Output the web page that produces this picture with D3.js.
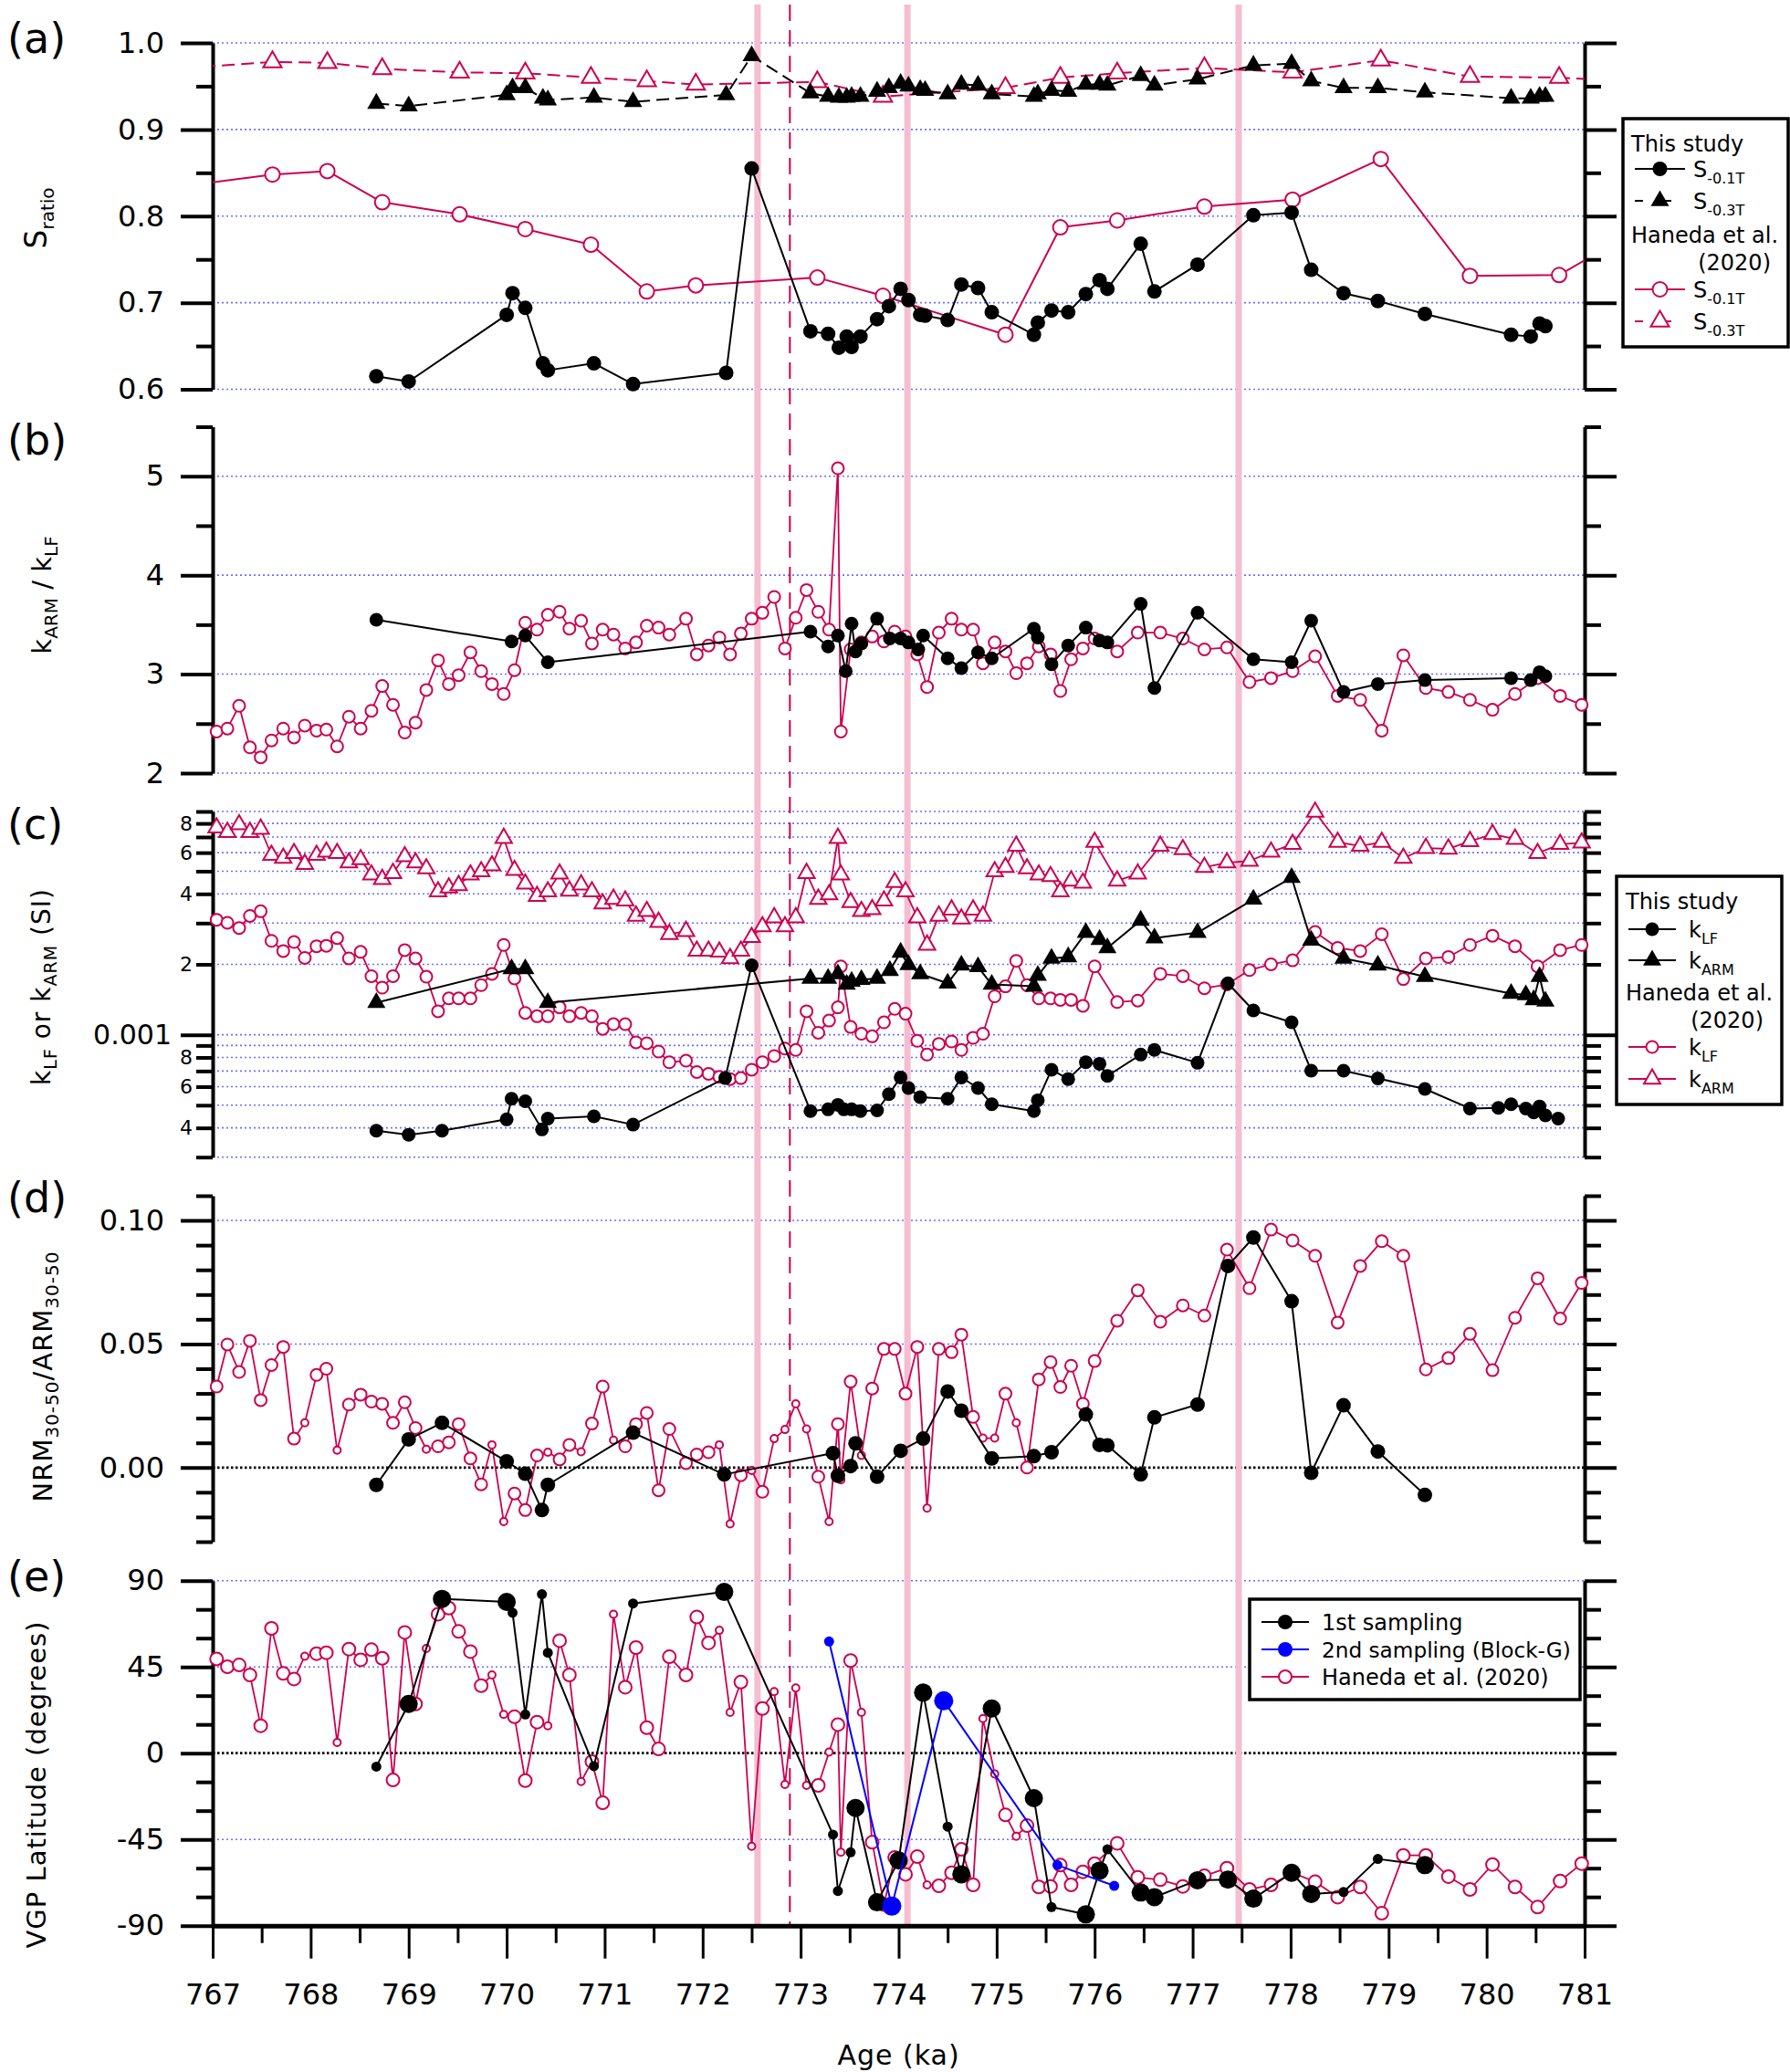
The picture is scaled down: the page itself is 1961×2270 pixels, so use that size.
<!DOCTYPE html>
<html>
<head>
<meta charset="utf-8">
<script src="https://cdn.jsdelivr.net/npm/d3@7/dist/d3.min.js"></script>
<style>
html,body{margin:0;padding:0;background:#fff;}
svg{display:block;}
</style>
</head>
<body>
<svg id="chart" width="1961" height="2270"></svg>
<script>
// ================= DATA =================
const ageTicks = [767,768,769,770,771,772,773,774,775,776,777,778,779,780,781];
const eventAges = [772.56, 774.09, 777.47];
const dashedAges = [772.89];

// (a) S-ratio, this study
const aAge = [768.67,769.0,770.0,770.06,770.19,770.37,770.42,770.89,771.29,772.24,772.5,773.1,773.28,773.39,773.47,773.52,773.61,773.78,773.9,774.02,774.1,774.22,774.27,774.5,774.64,774.81,774.95,775.38,775.42,775.56,775.73,775.91,776.05,776.13,776.47,776.61,777.05,777.62,778.01,778.21,778.54,778.89,779.37,780.25,780.45,780.54,780.6];
const aS01 = [0.615,0.609,0.686,0.711,0.694,0.630,0.622,0.630,0.606,0.619,0.855,0.667,0.664,0.648,0.661,0.649,0.661,0.681,0.696,0.716,0.703,0.686,0.685,0.680,0.721,0.717,0.689,0.663,0.677,0.691,0.689,0.710,0.726,0.716,0.768,0.713,0.744,0.801,0.804,0.738,0.711,0.702,0.687,0.663,0.661,0.676,0.673];
const aS03 = [0.930,0.927,0.940,0.948,0.948,0.936,0.934,0.937,0.932,0.940,0.985,0.942,0.938,0.937,0.937,0.938,0.938,0.944,0.948,0.953,0.950,0.946,0.945,0.941,0.952,0.951,0.941,0.938,0.941,0.945,0.944,0.952,0.952,0.951,0.962,0.951,0.958,0.974,0.976,0.956,0.948,0.948,0.943,0.936,0.936,0.938,0.938];
// (a) Haneda et al. (2020)
const hAAge = [766.9,767.61,768.17,768.73,769.52,770.19,770.86,771.43,771.93,773.17,773.84,775.09,775.65,776.23,777.12,778.02,778.92,779.83,780.74,781.2];
const hAS01 = [0.8375,0.848,0.852,0.816,0.802,0.785,0.767,0.713,0.720,0.729,0.708,0.663,0.787,0.795,0.811,0.819,0.866,0.731,0.732,0.762];
const hAS03 = [0.9725,0.978,0.977,0.970,0.966,0.965,0.960,0.956,0.952,0.955,0.938,0.948,0.960,0.965,0.971,0.966,0.980,0.961,0.960,0.957];

// (b) kARM/kLF, this study
const bAge = [768.67,770.05,770.19,770.42,773.10,773.28,773.38,773.46,773.52,773.56,773.62,773.78,773.91,774.02,774.10,774.2,774.25,774.5,774.64,774.81,774.95,775.38,775.42,775.56,775.73,775.91,776.05,776.13,776.47,776.61,777.05,777.62,778.01,778.21,778.54,778.89,779.37,780.25,780.45,780.54,780.6];
const bRatio = [3.55,3.33,3.39,3.12,3.43,3.28,3.39,3.03,3.51,3.23,3.31,3.56,3.36,3.36,3.32,3.25,3.39,3.16,3.06,3.22,3.16,3.46,3.37,3.10,3.29,3.47,3.34,3.32,3.71,2.86,3.62,3.15,3.12,3.54,2.82,2.90,2.94,2.96,2.94,3.02,2.98];

// Haneda et al. (2020), panels (b)-(e)
const hAge = [767.04,767.15,767.27,767.38,767.49,767.60,767.72,767.83,767.94,768.06,
768.16,768.27,768.39,768.51,768.62,768.73,768.84,768.96,769.07,769.18,
769.30,769.41,769.51,769.63,769.74,769.85,769.97,770.08,770.19,770.31,
770.42,770.54,770.64,770.76,770.87,770.98,771.09,771.21,771.32,771.43,
771.55,771.66,771.83,771.94,772.06,772.17,772.28,772.39,772.50,772.61,
772.73,772.84,772.95,773.06,773.18,773.29,773.38,773.41,773.51,773.62,
773.73,773.85,773.96,774.07,774.19,774.29,774.41,774.54,774.64,774.76,
774.86,774.98,775.09,775.20,775.31,775.43,775.55,775.65,775.76,775.88,
776.00,776.23,776.44,776.67,776.90,777.12,777.35,777.58,777.80,778.02,
778.25,778.48,778.71,778.93,779.15,779.38,779.61,779.83,780.06,780.29,
780.52,780.75,780.97];
const hRatio = [2.42,2.45,2.68,2.26,2.16,2.33,2.45,2.36,2.48,2.43,
2.44,2.27,2.57,2.45,2.63,2.88,2.69,2.41,2.51,2.84,
3.14,2.90,2.99,3.22,3.03,2.90,2.80,3.04,3.52,3.45,
3.60,3.63,3.46,3.54,3.31,3.45,3.40,3.26,3.32,3.49,
3.47,3.40,3.56,3.20,3.29,3.37,3.20,3.41,3.56,3.62,
3.78,3.26,3.57,3.85,3.63,3.45,5.08,2.42,3.25,3.32,
3.38,3.33,3.43,3.38,3.20,2.87,3.42,3.56,3.45,3.45,
3.11,3.32,3.23,3.01,3.11,3.28,3.20,2.83,3.15,3.26,
3.36,3.23,3.42,3.42,3.36,3.25,3.27,2.92,2.96,3.03,
3.18,2.78,2.74,2.43,3.19,2.86,2.82,2.74,2.64,2.80,
2.96,2.78,2.69];
const hKlf = [3.10e-3,3.01e-3,2.86e-3,3.22e-3,3.37e-3,2.52e-3,2.28e-3,2.49e-3,2.13e-3,2.39e-3,
2.40e-3,2.59e-3,2.12e-3,2.26e-3,1.78e-3,1.59e-3,1.78e-3,2.30e-3,2.12e-3,1.77e-3,
1.26e-3,1.43e-3,1.43e-3,1.43e-3,1.63e-3,1.82e-3,2.42e-3,1.74e-3,1.24e-3,1.20e-3,
1.20e-3,1.31e-3,1.20e-3,1.24e-3,1.20e-3,1.06e-3,1.11e-3,1.11e-3,0.928e-3,0.920e-3,
0.848e-3,0.763e-3,0.775e-3,0.693e-3,0.681e-3,0.661e-3,0.647e-3,0.653e-3,0.709e-3,0.763e-3,
0.811e-3,0.873e-3,0.861e-3,1.26e-3,1.02e-3,1.15e-3,1.31e-3,1.96e-3,1.08e-3,1.01e-3,
0.985e-3,1.13e-3,1.29e-3,1.23e-3,0.942e-3,0.823e-3,0.914e-3,0.936e-3,0.861e-3,0.970e-3,
1.01e-3,1.46e-3,1.61e-3,2.07e-3,1.63e-3,1.43e-3,1.43e-3,1.41e-3,1.41e-3,1.33e-3,
1.96e-3,1.38e-3,1.40e-3,1.82e-3,1.78e-3,1.58e-3,1.64e-3,1.89e-3,2.00e-3,2.08e-3,
2.75e-3,2.35e-3,2.28e-3,2.69e-3,1.73e-3,2.12e-3,2.15e-3,2.42e-3,2.65e-3,2.39e-3,
1.96e-3,2.30e-3,2.42e-3];
const hKarm = [7.67e-3,7.34e-3,7.91e-3,7.34e-3,7.57e-3,5.86e-3,5.69e-3,5.96e-3,5.36e-3,5.86e-3,
6.04e-3,5.96e-3,5.44e-3,5.61e-3,4.83e-3,4.62e-3,4.90e-3,5.78e-3,5.44e-3,5.13e-3,
4.09e-3,4.25e-3,4.35e-3,4.83e-3,4.98e-3,5.28e-3,6.92e-3,5.05e-3,4.41e-3,3.91e-3,
4.09e-3,4.87e-3,4.12e-3,4.38e-3,4.09e-3,3.63e-3,3.80e-3,3.74e-3,3.22e-3,3.37e-3,
3.03e-3,2.69e-3,2.77e-3,2.28e-3,2.28e-3,2.26e-3,2.12e-3,2.28e-3,2.61e-3,2.90e-3,
3.17e-3,2.90e-3,3.17e-3,4.90e-3,3.80e-3,3.97e-3,6.92e-3,4.83e-3,3.68e-3,3.37e-3,
3.43e-3,3.74e-3,4.48e-3,4.09e-3,3.17e-3,2.42e-3,3.22e-3,3.42e-3,3.13e-3,3.42e-3,
3.22e-3,4.98e-3,5.20e-3,6.41e-3,5.13e-3,4.83e-3,4.75e-3,4.09e-3,4.55e-3,4.45e-3,
6.66e-3,4.55e-3,4.87e-3,6.41e-3,6.19e-3,5.20e-3,5.44e-3,5.53e-3,6.04e-3,6.52e-3,
8.95e-3,6.66e-3,6.41e-3,6.66e-3,5.69e-3,6.27e-3,6.23e-3,6.71e-3,7.19e-3,6.86e-3,
5.96e-3,6.52e-3,6.61e-3];
const hNrm = [0.0328,0.0498,0.0387,0.0513,0.0273,0.0415,0.0488,0.0117,0.0181,0.0375,
0.0400,0.0070,0.0255,0.0295,0.0267,0.0258,0.0181,0.0264,0.0160,0.0074,
0.0086,0.0102,0.0176,0.0037,-0.0068,0.0092,-0.0219,-0.0105,-0.0172,0.0049,
0.0062,0.0033,0.0092,0.0064,0.0178,0.0328,0.0111,0.0086,0.0176,0.0221,
-0.0092,0.0156,0.0018,0.0053,0.0062,0.0092,-0.0228,-0.0031,-0.0012,-0.0098,
0.0117,0.0154,0.0258,0.0156,-0.0037,-0.0219,0.0176,-0.0050,0.0348,0.0049,
0.0320,0.0480,0.0480,0.0299,0.0488,-0.0164,0.0480,0.0467,0.0538,0.0205,
0.0119,0.0119,0.0299,0.0181,0.0000,0.0357,0.0427,0.0326,0.0412,0.0258,
0.0431,0.0594,0.0717,0.0590,0.0656,0.0615,0.0882,0.0726,0.0963,0.0919,
0.0857,0.0587,0.0816,0.0916,0.0857,0.0397,0.0443,0.0541,0.0394,0.0606,
0.0766,0.0603,0.0747];
const hVgp = [49.2,45.1,46.0,40.8,14.3,65.1,41.6,38.7,50.6,51.9,
52.4,5.6,54.3,48.7,54.0,49.5,-14.0,63.0,25.7,54.6,
72.5,75.7,63.5,53.0,35.2,40.8,20.2,19.0,-14.3,16.2,
14.3,58.7,40.8,-14.8,-4.4,-25.9,72.5,34.4,55.1,13.3,
2.2,50.3,40.8,71.0,57.5,64.1,21.3,37.1,-48.6,23.3,
32.1,-16.3,34.0,-16.8,-16.8,0.6,14.9,-51.7,48.3,21.3,
-46.5,-79.0,-54.4,-63.2,-54.0,-68.7,-69.2,-62.4,-50.2,-68.7,
18.1,-10.8,-32.2,-43.3,-37.8,-69.8,-69.5,-58.4,-68.7,-61.9,
-57.6,-47.0,-64.8,-66.0,-69.5,-64.0,-60.0,-71.1,-68.7,-62.4,
-67.1,-75.1,-69.8,-83.5,-53.3,-53.3,-64.4,-71.1,-58.1,-69.8,
-80.3,-66.7,-57.6];
// Haneda samples drawn with the small marker in (d) and (e)
const hSmallAges = [767.94,768.27,769.18,769.85,769.97,770.42,770.76,771.09,772.17,772.28,772.50,772.73,772.84,772.95,773.06,773.29,773.41,773.62,774.29,774.86,774.98,775.20];

// (c) kLF and kARM, this study
const cKlfAge = [768.67,769.0,769.34,770.0,770.05,770.19,770.36,770.42,770.89,771.29,772.23,772.5,773.10,773.28,773.38,773.44,773.52,773.61,773.78,773.90,774.02,774.10,774.22,774.50,774.64,774.81,774.95,775.38,775.42,775.56,775.73,775.91,776.05,776.13,776.47,776.61,777.05,777.36,777.62,778.01,778.21,778.54,778.89,779.37,779.83,780.12,780.25,780.40,780.48,780.54,780.60,780.73];
const cKlf = [3.89e-4,3.74e-4,3.89e-4,4.35e-4,5.33e-4,5.20e-4,3.94e-4,4.38e-4,4.48e-4,4.13e-4,6.53e-4,1.98e-3,4.72e-4,4.80e-4,5.02e-4,4.80e-4,4.80e-4,4.72e-4,4.75e-4,5.57e-4,6.57e-4,5.92e-4,5.41e-4,5.33e-4,6.57e-4,5.92e-4,5.05e-4,4.72e-4,5.25e-4,7.09e-4,6.47e-4,7.63e-4,7.52e-4,6.67e-4,8.23e-4,8.61e-4,7.59e-4,1.66e-3,1.27e-3,1.13e-3,7.02e-4,7.02e-4,6.51e-4,5.87e-4,4.84e-4,4.87e-4,5.05e-4,4.84e-4,4.66e-4,4.94e-4,4.52e-4,4.38e-4];
const cKarmAge = [768.67,770.05,770.19,770.42,773.10,773.28,773.38,773.47,773.52,773.62,773.78,773.91,774.02,774.10,774.22,774.50,774.64,774.81,774.95,775.38,775.42,775.56,775.73,775.91,776.05,776.13,776.47,776.61,777.05,777.62,778.01,778.21,778.54,778.89,779.37,780.25,780.40,780.48,780.54,780.60];
const cKarm = [1.37e-3,1.91e-3,1.91e-3,1.37e-3,1.74e-3,1.74e-3,1.82e-3,1.64e-3,1.69e-3,1.72e-3,1.74e-3,1.88e-3,2.25e-3,1.99e-3,1.82e-3,1.66e-3,1.98e-3,1.95e-3,1.64e-3,1.61e-3,1.79e-3,2.12e-3,2.15e-3,2.73e-3,2.55e-3,2.35e-3,3.08e-3,2.59e-3,2.73e-3,3.79e-3,4.69e-3,2.53e-3,2.12e-3,1.98e-3,1.77e-3,1.50e-3,1.48e-3,1.41e-3,1.77e-3,1.39e-3];

// (d) NRM30-50/ARM30-50, this study
const dAge = [768.67,769.0,769.34,770.0,770.19,770.36,770.42,771.29,772.22,773.33,773.38,773.51,773.56,773.78,774.02,774.25,774.50,774.64,774.95,775.38,775.56,775.91,776.05,776.13,776.47,776.61,777.05,777.36,777.62,778.01,778.21,778.54,778.89,779.37];
const dNrm = [-0.0070,0.0114,0.0181,0.0025,-0.0025,-0.0172,-0.0070,0.0141,-0.0028,0.0058,-0.0033,0.0006,0.0098,-0.0037,0.0068,0.0117,0.0308,0.0230,0.0037,0.0046,0.0062,0.0215,0.0092,0.0090,-0.0028,0.0203,0.0255,0.0816,0.0931,0.0673,-0.0021,0.0252,0.0065,-0.0111];

// (e) VGP latitude: 1st sampling and 2nd sampling (Block-G)
const e1Age = [768.67,769.0,769.34,770.0,770.06,770.19,770.36,770.42,770.89,771.29,772.22,773.33,773.38,773.51,773.56,773.78,774.0,774.25,774.5,774.64,774.95,775.38,775.56,775.91,776.05,776.13,776.47,776.61,777.05,777.36,777.62,778.01,778.21,778.54,778.89,779.37];
const e1Vgp = [-7.0,25.7,80.5,78.9,73.3,20.2,82.9,52.4,-6.8,78.1,84.1,-42.5,-71.9,-51.7,-28.6,-77.8,-56.0,31.6,-38.3,-63.2,23.3,-23.5,-80.3,-84.1,-61.3,-50.2,-72.7,-75.1,-66.3,-66.0,-75.9,-62.4,-73.5,-72.4,-55.2,-58.4];
const e1Small = [1,0,0,0,1,1,1,1,1,1,0,1,1,1,0,0,0,0,1,0,0,0,1,0,0,1,0,0,0,0,0,0,0,1,1,0];
const e2Age = [773.29,773.93,774.46,775.62,776.2];
const e2Vgp = [58.3,-79.8,27.3,-58.4,-69.2];
const e2Small = [1,0,0,1,1];

// tick values / labels
const aTicks = [0.6,0.7,0.8,0.9,1.0], aMinor = [0.65,0.75,0.85,0.95];
const bTicks = [2,3,4,5], bMinor = [2.5,3.5,4.5,5.5];
const cTicks = [3e-4,4e-4,5e-4,6e-4,7e-4,8e-4,9e-4,2e-3,3e-3,4e-3,5e-3,6e-3,7e-3,8e-3,9e-3], cMajor = [1e-3];
const cLabels = {"0.0004":"4","0.0006":"6","0.0008":"8","0.002":"2","0.004":"4","0.006":"6","0.008":"8"};
const dTicks = [0,0.05,0.10], dMinor = [-0.03,-0.02,-0.01,0.01,0.02,0.03,0.04,0.06,0.07,0.08,0.09,0.11];
const eTicks = [-90,-45,0,45,90], eMinor = [-75,-60,-30,-15,15,30,60,75];

// ================= DRAWING =================
const FONT = "'DejaVu Sans', Verdana, sans-serif";
const CR = '#cc0050', GRIDC = '#6f6fff', PINK = '#f6bdd1', BLUE = '#0000ff';
const X0 = 233, X1 = 1736;
const svg = d3.select('#chart');
const x = d3.scaleLinear().domain([767,781]).range([X0,X1]);
const yA = d3.scaleLinear().domain([0.6,1.0]).range([426.5,47]);
const yB = d3.scaleLinear().domain([2,5.5]).range([847,467.5]);
const yC = d3.scaleLog().domain([3e-4,9e-3]).range([1267.7,889]);
const yD = d3.scaleLinear().domain([-0.03,0.11]).range([1689,1310]);
const yE = d3.scaleLinear().domain([-90,90]).range([2109.7,1731.7]);

svg.append('rect').attr('width',1961).attr('height',2270).attr('fill','#fff');
svg.append('defs').append('clipPath').attr('id','clipX').append('rect')
  .attr('x',X0).attr('y',0).attr('width',X1-X0).attr('height',2270);

const gGrid = svg.append('g'), gEvt = svg.append('g'), gAxis = svg.append('g'),
      gData = svg.append('g'), gLeg = svg.append('g');

function grid(y, vals, color, dash, sw){
  vals.forEach(v => gGrid.append('line').attr('x1',X0).attr('x2',X1)
    .attr('y1',y(v)).attr('y2',y(v)).attr('stroke',color).attr('stroke-width',sw)
    .attr('stroke-dasharray',dash));
}
grid(yA, aTicks, GRIDC, '2,3', 1.6);
grid(yB, bTicks, GRIDC, '2,3', 1.6);
grid(yC, cTicks.concat(cMajor), GRIDC, '2,3', 1.6);
grid(yD, [0.05,0.10], GRIDC, '2,3', 1.6);
grid(yD, [0], '#000', '2.5,2.5', 2.8);
grid(yE, [45,90,-45], GRIDC, '2,3', 1.6);
grid(yE, [0], '#000', '2.5,2.5', 2.8);

// event lines
eventAges.forEach(a => gEvt.append('line').attr('x1',x(a)).attr('x2',x(a))
  .attr('y1',5).attr('y2',yE(-90)).attr('stroke',PINK).attr('stroke-width',7));
dashedAges.forEach(a => gEvt.append('line').attr('x1',x(a)).attr('x2',x(a))
  .attr('y1',5).attr('y2',yE(-90)).attr('stroke',CR).attr('stroke-width',2)
  .attr('stroke-dasharray','18,10'));

function styleAxis(g, fs){
  g.selectAll('line').attr('stroke','#000').attr('stroke-width',4);
  g.selectAll('text').attr('font-size',fs).attr('font-family',FONT).attr('fill','#000');
  g.select('.domain').attr('stroke','#000').attr('stroke-width',4);
}
function yAxes(y, major, minor, fmt, o){
  o = o || {};
  [['L',X0],['R',X1]].forEach(([side,xp]) => {
    const mk = side==='L' ? d3.axisLeft : d3.axisRight;
    const gMaj = gAxis.append('g').attr('transform',`translate(${xp},0)`)
      .call(mk(y).tickValues(major).tickSize(35).tickSizeOuter(0).tickPadding(o.pad||18)
        .tickFormat(side==='L' ? fmt : () => ''));
    styleAxis(gMaj, o.fs||32);
    const gMin = gAxis.append('g').attr('transform',`translate(${xp},0)`)
      .call(mk(y).tickValues(minor).tickSize(18).tickSizeOuter(0).tickPadding(o.mpad||4)
        .tickFormat(side==='L' && o.minorFmt ? o.minorFmt : () => ''));
    gMin.select('.domain').remove();
    styleAxis(gMin, o.mfs||22);
  });
}
yAxes(yA, aTicks, aMinor, d3.format('.1f'));
yAxes(yB, bTicks, bMinor, d => String(d));
yAxes(yC, cMajor, cTicks, () => '0.001', {pad:10, fs:30, mfs:22, minorFmt: d => cLabels[String(+d.toPrecision(3))] || ''});
yAxes(yD, dTicks, dMinor, d3.format('.2f'));
yAxes(yE, eTicks, eMinor, d => String(d));

// x axis
const gx = gAxis.append('g').attr('transform',`translate(0,${yE(-90)})`)
  .call(d3.axisBottom(x).tickValues(ageTicks).tickSize(36).tickSizeOuter(0).tickPadding(28)
    .tickFormat(d => String(d)));
styleAxis(gx, 32);
gx.selectAll('line').attr('stroke-width',3);
gx.select('.domain').attr('stroke-width',5);
const gx2 = gAxis.append('g').attr('transform',`translate(0,${yE(-90)})`)
  .call(d3.axisBottom(x).tickValues(ageTicks.slice(0,-1).map(d => d+0.5)).tickSize(19).tickSizeOuter(0).tickFormat(''));
gx2.select('.domain').remove();
gx2.selectAll('line').attr('stroke','#000').attr('stroke-width',3);
gAxis.append('text').attr('x',(X0+X1)/2).attr('y',2262).attr('text-anchor','middle')
  .attr('font-family',FONT).attr('font-size',30).attr('letter-spacing',1).text('Age (ka)');

// panel labels
[['(a)',58],['(b)',498],['(c)',919],['(d)',1328],['(e)',1743]].forEach(([t,yy]) =>
  gAxis.append('text').attr('x',8).attr('y',yy).attr('font-family',FONT).attr('font-size',46).text(t));

// axis titles (rotated)
function title(xb, yc, parts, ls){
  const t = gAxis.append('text').attr('transform',`translate(${xb},${yc}) rotate(-90)`)
    .attr('text-anchor','middle').attr('font-family',FONT).attr('letter-spacing',ls||0);
  parts.forEach(p => t.append('tspan').attr('font-size',p[1]).attr('dy',p[2]||0).text(p[0]));
}
title(51, 239, [['S',33],['ratio',20,8]]);
title(56, 652, [['k',29],['ARM',20,7],[' / k',29,-7],['LF',20,7]]);
title(55, 1081, [['k',28],['LF',19,7],[' or k',28,-7],['ARM',19,7],[' (SI)',28,-7]], 1);
title(57, 1508, [['NRM',29],['30-50',20,7],['/ARM',29,-7],['30-50',20,7]], 1);
title(50, 1955, [['VGP Latitude (degrees)',29]], 1);

// ---------- series helpers ----------
function pts(ages, vals){ return ages.map((a,i) => [a, vals[i], i]); }
function drawLine(g, data, y, color, sw, dash){
  g.append('path').attr('d', d3.line().x(d => x(d[0])).y(d => y(d[1]))(data))
    .attr('fill','none').attr('stroke',color).attr('stroke-width',sw)
    .attr('stroke-linejoin','round').attr('stroke-dasharray',dash||null)
    .attr('clip-path','url(#clipX)');
}
function marker(g, type, cx, cy, size, fill, stroke, sw){
  if (type === 'circle') {
    g.append('circle').attr('cx',cx).attr('cy',cy).attr('r',size)
      .attr('fill',fill).attr('stroke',stroke||'none').attr('stroke-width',sw||0);
  } else {
    g.append('path').attr('d', d3.symbol().type(d3.symbolTriangle).size(size*size*Math.sqrt(3)/4)())
      .attr('transform',`translate(${cx},${cy})`)
      .attr('fill',fill).attr('stroke',stroke||'none').attr('stroke-width',sw||0);
  }
}
function series(data, y, o){
  drawLine(gData, data, y, o.color, o.sw||2, o.dash);
  data.forEach(d => {
    if (d[0] < 767 || d[0] > 781) return;
    const s = o.sizeFn ? o.sizeFn(d[2]) : o.size;
    marker(gData, o.type, x(d[0]), y(d[1]), s, o.fill, o.stroke, o.msw);
  });
}
const hSmall = i => hSmallAges.indexOf(hAge[i]) >= 0;

// (a)
series(pts(hAAge,hAS01), yA, {color:CR, sw:2, type:'circle', size:8, fill:'#fff', stroke:CR, msw:2});
series(pts(hAAge,hAS03), yA, {color:CR, sw:2, dash:'14,7', type:'tri', size:20, fill:'#fff', stroke:CR, msw:2});
series(pts(aAge,aS03), yA, {color:'#000', sw:2, dash:'14,7', type:'tri', size:20, fill:'#000'});
series(pts(aAge,aS01), yA, {color:'#000', sw:2, type:'circle', size:8, fill:'#000'});
// (b)
series(pts(hAge,hRatio), yB, {color:CR, sw:1.8, type:'circle', size:6.5, fill:'#fff', stroke:CR, msw:2});
series(pts(bAge,bRatio), yB, {color:'#000', sw:2, type:'circle', size:7.5, fill:'#000'});
// (c)
series(pts(hAge,hKarm), yC, {color:CR, sw:1.8, type:'tri', size:18, fill:'#fff', stroke:CR, msw:2});
series(pts(hAge,hKlf), yC, {color:CR, sw:1.8, type:'circle', size:6.5, fill:'#fff', stroke:CR, msw:2});
series(pts(cKarmAge,cKarm), yC, {color:'#000', sw:2, type:'tri', size:20, fill:'#000'});
series(pts(cKlfAge,cKlf), yC, {color:'#000', sw:2, type:'circle', size:7.5, fill:'#000'});
// (d)
series(pts(hAge,hNrm), yD, {color:CR, sw:1.8, type:'circle', sizeFn: i => hSmall(i) ? 4 : 6.5, fill:'#fff', stroke:CR, msw:2});
series(pts(dAge,dNrm), yD, {color:'#000', sw:2, type:'circle', size:8, fill:'#000'});
// (e)
series(pts(hAge,hVgp), yE, {color:CR, sw:1.8, type:'circle', sizeFn: i => hSmall(i) ? 4 : 7, fill:'#fff', stroke:CR, msw:2});
series(pts(e1Age,e1Vgp), yE, {color:'#000', sw:2, type:'circle', sizeFn: i => e1Small[i] ? 5.5 : 10, fill:'#000'});
series(pts(e2Age,e2Vgp), yE, {color:BLUE, sw:2, type:'circle', sizeFn: i => e2Small[i] ? 5.5 : 10.5, fill:BLUE});

// ---------- legends ----------
function box(x0,y0,x1,y1){
  gLeg.append('rect').attr('x',x0).attr('y',y0).attr('width',x1-x0).attr('height',y1-y0)
    .attr('fill','#fff').attr('stroke','#000').attr('stroke-width',3.5);
}
function ltext(xx, yc, parts, anchor){
  const t = gLeg.append('text').attr('x',xx).attr('y',yc+9).attr('font-family',FONT)
    .attr('text-anchor',anchor||'start');
  parts.forEach(p => t.append('tspan').attr('font-size',p[1]).attr('dy',p[2]||0).text(p[0]));
}
function lsym(x0, x1, yc, o){
  gLeg.append('line').attr('x1',x0).attr('x2',x1).attr('y1',yc).attr('y2',yc)
    .attr('stroke',o.color).attr('stroke-width',2).attr('stroke-dasharray',o.dash||null);
  marker(gLeg, o.type, (x0+x1)/2, yc, o.size, o.fill, o.stroke, o.msw);
}
// (a) legend
box(1778,130,1959,380);
ltext(1787,157,[['This study',24]]);
lsym(1791,1846,185,{color:'#000',type:'circle',size:8,fill:'#000'});
ltext(1855,185,[['S',24],['-0.1T',16,7]]);
lsym(1791,1846,220,{color:'#000',dash:'9,22',type:'tri',size:20,fill:'#000'});
ltext(1855,220,[['S',24],['-0.3T',16,7]]);
ltext(1787,257,[['Haneda et al.',24]]);
ltext(1940,287,[['(2020)',24]],'end');
lsym(1791,1846,317,{color:CR,type:'circle',size:8,fill:'#fff',stroke:CR,msw:2});
ltext(1855,317,[['S',24],['-0.1T',16,7]]);
lsym(1791,1846,352,{color:CR,dash:'9,22',type:'tri',size:20,fill:'#fff',stroke:CR,msw:2});
ltext(1855,352,[['S',24],['-0.3T',16,7]]);
// (c) legend
box(1771,960,1952,1210);
ltext(1781,987,[['This study',24]]);
lsym(1784,1836,1018,{color:'#000',type:'circle',size:7.5,fill:'#000'});
ltext(1850,1018,[['k',24],['LF',16,7]]);
lsym(1784,1836,1052,{color:'#000',type:'tri',size:20,fill:'#000'});
ltext(1850,1052,[['k',24],['ARM',16,7]]);
ltext(1781,1087,[['Haneda et al.',24]]);
ltext(1932,1117,[['(2020)',24]],'end');
lsym(1784,1836,1147,{color:CR,type:'circle',size:6.5,fill:'#fff',stroke:CR,msw:2});
ltext(1850,1147,[['k',24],['LF',16,7]]);
lsym(1784,1836,1182,{color:CR,type:'tri',size:18,fill:'#fff',stroke:CR,msw:2});
ltext(1850,1182,[['k',24],['ARM',16,7]]);
// (e) legend
box(1369,1752,1731,1862);
lsym(1382,1434,1777,{color:'#000',type:'circle',size:8,fill:'#000'});
ltext(1448,1777,[['1st sampling',24]]);
lsym(1382,1434,1807,{color:BLUE,type:'circle',size:8,fill:BLUE});
ltext(1448,1807,[['2nd sampling (Block-G)',23.2]]);
lsym(1382,1434,1837,{color:CR,type:'circle',size:7,fill:'#fff',stroke:CR,msw:2});
ltext(1448,1837,[['Haneda et al. (2020)',24]]);
</script>
</body>
</html>
